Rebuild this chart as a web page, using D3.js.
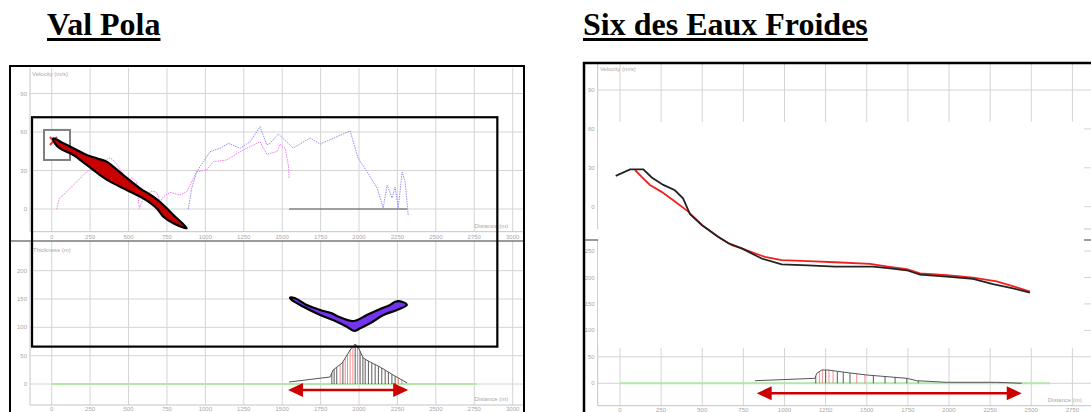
<!DOCTYPE html>
<html>
<head>
<meta charset="utf-8">
<script src="https://cdn.jsdelivr.net/npm/d3@7"></script>
<style>
  body { margin: 0; background: #fff; }
  svg { display: block; }
  .tick-label { font-family: "Liberation Sans", Arial, sans-serif; font-size: 6px; fill: #a8a8a8; }
  .title { font-family: "Liberation Serif", "Times New Roman", serif; font-size: 32px; font-weight: bold; fill: #000; }
</style>
</head>
<body>
<svg id="chart" width="1091" height="412"></svg>
<script>
// ---- data ----
var distTicksLeft = [0, 250, 500, 750, 1000, 1250, 1500, 1750, 2000, 2250, 2500, 2750, 3000];
var distTicksRight = [0, 250, 500, 750, 1000, 1250, 1500, 1750, 2000, 2250, 2500, 2750];
var velTicks = [0, 30, 60, 90];
var thkTicksLeft = [0, 50, 100, 150, 200];
var thkTicksRight = [0, 50, 100, 150, 200, 250];

// Val Pola velocity (distance m, velocity m/s)
var velPink = [[33,0],[49,8.3],[98,13.5],[163,21.3],[228,29.1],[314,35.6],[380,40],[412,36.8],[456,29.1],[484,20],
  [521,24.4],[553,21.3],[570,0.5],[607,10.9],[651,14],[684,13],[705,5.7],[727,9.6],[770,13],[835,10.9],[879,13.5],
  [911,21.3],[944,29.1],[1009,30.4],[1052,36.9],[1139,38.2],[1226,44.7],[1313,49.9],[1356,52.4],[1400,42.6],
  [1465,44.7],[1486,50.4],[1519,47.3],[1540,34.3],[1545,23.9]];
var velBlue = [[889,0],[911,16.1],[944,29.1],[987,36.9],[1031,44.7],[1096,47.3],[1150,51.2],[1226,47.3],[1291,52.4],
  [1356,64.1],[1400,49.9],[1421,51.2],[1475,58.4],[1571,47.5],[1682,55.3],[1747,50.6],[1942,60.8],[1994,39.7],
  [2053,28.8],[2118,16.4],[2157,0.8],[2183,18.7],[2215,8.6],[2235,17.1],[2255,0.8],[2281,28.8],[2300,21],[2320,-4.7]];
var zeroSegLeft = [1545, 2313];

// Val Pola deposit thickness (distance m, thickness m)
var thkLeft = [[1545,3.5],[1812,12.4],[1831,24.7],[1890,37],[1942,60],[1975,70.6],[1994,65.3],[2027,45.9],
  [2072,38.8],[2137,30],[2222,15.9],[2313,1.8]];
var hatchLeftBlack = [1823,1838,1855,1895,1975,2007,2025,2040,2061,2083,2105,2126,2148,2170,2191,2214,2235];
var hatchLeftRed = [1877,1910,1925,1942,1960,1990,2257,2279];
var greenEndLeft = 2767;
var arrowLeft = { from: 1538, to: 2320, at: -10.6 };

// Six des Eaux Froides profiles (distance m, altitude m)
var profBlack = [[-26,1689],[61,1701],[142,1701],[193,1686],[263,1672],[334,1662],[383,1647],[426,1617],[497,1597],
  [596,1575],[657,1563],[740,1553],[861,1534],[983,1523],[1143,1521],[1307,1519],[1538,1519],[1629,1516],
  [1743,1512],[1824,1504],[1986,1500],[2146,1496],[2267,1486],[2389,1478],[2492,1470]];
var profRed = [[91,1700],[132,1687],[182,1672],[253,1659],[334,1641],[415,1622],[497,1597],[596,1575],[679,1559],
  [740,1553],[881,1537],[983,1531],[1145,1529],[1307,1527],[1520,1524],[1629,1519],[1743,1514],[1824,1506],
  [1986,1503],[2146,1498],[2290,1491],[2412,1480],[2492,1472]];
var thkRight = [[821,4.9],[1185,9.4],[1196,18.9],[1226,25.1],[1264,25.1],[1398,19.5],[1500,15.7],[1743,9.4],
  [1804,4.9],[1986,1.9],[2290,1.9],[2442,0]];
var hatchRightBlack = [1190,1250,1321,1357,1398,1540,1611,1672,1743,1813];
var hatchRightRed = [1212,1230,1270,1295,1439,1489];
var greenEndRight = 2614;
var arrowRight = { from: 831, to: 2442, at: -18.9 };

// hand-drawn annotations on the Val Pola chart (distance, velocity / thickness)
var redBlob = [[10,55.1],[76,51.2],[163,46],[228,42.1],[293,39.5],[358,36.9],[401,33],[466,26.5],[575,16.1],
  [661,9.6],[727,3.1],[792,-4.7],[879,-15],[792,-11.1],[727,-6],[684,0.5],[596,8.3],[488,14.8],[380,21.3],
  [314,26.5],[228,34.3],[141,42.1],[54,47.3],[21,51.2]];
var purpleBlob = [[1551,152.3],[1584,151.3],[1660,139.4],[1747,130.6],[1823,124.8],[1866,118.8],[1964,111.2],
  [2051,121.8],[2137,132.4],[2202,139.4],[2235,145.3],[2279,145.3],[2311,139.4],[2246,130.6],[2159,121.8],
  [2072,107.1],[2007,98.3],[1968,93.6],[1921,101.1],[1855,110],[1747,121.8],[1638,136.5],[1562,148.3]];
var markBox = { d0: -50, d1: 119, v0: 61.6, v1: 38.2 };
var markX = { d: 8, v: 53 };
var highlightBox = { d0: -128, d1: 2900, vTop: 71.5, tBottom: 66 };

var svg = d3.select("#chart");
svg.append("rect").attr("width", 1091).attr("height", 412).attr("fill", "#fff");

// ---- panel set-up ----
var left = {
    id: "L",
    frame: { x: 10, y: 66, w: 514 },
    x: d3.scaleLinear().domain([0, 3000]).range([51.7, 512.7]),
    yV: d3.scaleLinear().domain([0, 90]).range([209, 93.5]),
    yT: d3.scaleLinear().domain([0, 200]).range([384, 270.7]),
    distTicks: distTicksLeft, thkTicks: thkTicksLeft,
    plotLeft: 30, plotRight: 524, distLabelAt: 2750,
    velTop: 68, velBottom: 231.7, divider: 241, thkBottom: 405
};
var right = {
    id: "R",
    frame: { x: 584, y: 63, w: 520 },
    x: d3.scaleLinear().domain([0, 2750]).range([620, 1072.4]),
    yV: d3.scaleLinear().domain([0, 90]).range([206.7, 90]),
    yT: d3.scaleLinear().domain([0, 250]).range([383.3, 251]),
    distTicks: distTicksRight, thkTicks: thkTicksRight,
    plotLeft: 597.7, plotRight: 1091, distLabelAt: 2600,
    velTop: 63, velBottom: 229, divider: 240, thkBottom: 405.7
};

function drawGrid(p) {
    svg.append("clipPath").attr("id", "clip" + p.id)
        .append("rect").attr("x", p.frame.x).attr("y", p.frame.y).attr("width", p.frame.w).attr("height", 412);
    var g = svg.append("g").attr("clip-path", "url(#clip" + p.id + ")");

    // vertical grid lines in both sub-charts
    p.distTicks.forEach(function(t) {
        g.append("line").attr("x1", p.x(t)).attr("x2", p.x(t)).attr("y1", p.velTop).attr("y2", p.velBottom)
            .attr("stroke", "#d4d4d4");
        g.append("line").attr("x1", p.x(t)).attr("x2", p.x(t)).attr("y1", p.divider).attr("y2", p.thkBottom)
            .attr("stroke", "#d4d4d4");
    });
    // horizontal grid lines
    velTicks.forEach(function(v) {
        g.append("line").attr("x1", p.plotLeft).attr("x2", p.plotRight).attr("y1", p.yV(v)).attr("y2", p.yV(v))
            .attr("stroke", "#d4d4d4");
        g.append("text").attr("class", "tick-label").attr("x", p.plotLeft - 3).attr("y", p.yV(v))
            .attr("dy", "0.35em").attr("text-anchor", "end").text(v);
    });
    p.thkTicks.forEach(function(t) {
        g.append("line").attr("x1", p.plotLeft).attr("x2", p.plotRight).attr("y1", p.yT(t)).attr("y2", p.yT(t))
            .attr("stroke", "#d4d4d4");
        g.append("text").attr("class", "tick-label").attr("x", p.plotLeft - 3).attr("y", p.yT(t))
            .attr("dy", "0.35em").attr("text-anchor", "end").text(t);
    });
    // axis frame lines
    g.append("line").attr("x1", p.plotLeft).attr("x2", p.plotLeft).attr("y1", p.velTop).attr("y2", p.velBottom)
        .attr("stroke", "#c4c4c4");
    g.append("line").attr("x1", p.plotLeft).attr("x2", p.plotLeft).attr("y1", p.divider).attr("y2", p.thkBottom)
        .attr("stroke", "#c4c4c4");
    g.append("line").attr("x1", p.plotLeft).attr("x2", p.plotRight).attr("y1", p.velBottom).attr("y2", p.velBottom)
        .attr("stroke", "#c4c4c4");
    g.append("line").attr("x1", p.plotLeft).attr("x2", p.plotRight).attr("y1", p.thkBottom).attr("y2", p.thkBottom)
        .attr("stroke", "#c4c4c4");
    g.append("line").attr("x1", p.frame.x).attr("x2", p.plotRight).attr("y1", p.divider).attr("y2", p.divider)
        .attr("stroke", "#7a7a7a").attr("stroke-width", 1.5);

    // distance labels
    p.distTicks.forEach(function(t) {
        g.append("text").attr("class", "tick-label").attr("x", p.x(t)).attr("y", p.velBottom + 5)
            .attr("dy", "0.35em").attr("text-anchor", "middle").text(t);
        g.append("text").attr("class", "tick-label").attr("x", p.x(t)).attr("y", p.thkBottom + 4)
            .attr("dy", "0.35em").attr("text-anchor", "middle").text(t);
    });
    g.append("text").attr("class", "tick-label").attr("x", p.plotLeft + 2).attr("y", p.velTop + 8)
        .text("Velocity (m/s)");
    g.append("text").attr("class", "tick-label").attr("x", p.plotLeft + 3).attr("y", p.divider + 11)
        .text("Thickness (m)");
    g.append("text").attr("class", "tick-label").attr("x", p.x(p.distLabelAt)).attr("y", p.velBottom - 4)
        .text("Distance (m)");
    g.append("text").attr("class", "tick-label").attr("x", p.x(p.distLabelAt)).attr("y", p.thkBottom - 4)
        .text("Distance (m)");
    return g;
}

function drawThickness(g, p, data, black, red, greenEnd, arrow) {
    g.append("line").attr("x1", p.x(0)).attr("x2", p.x(greenEnd)).attr("y1", p.yT(0)).attr("y2", p.yT(0))
        .attr("stroke", "#b5e6aa").attr("stroke-width", 2);
    var prof = d3.scaleLinear().domain(data.map(d => d[0])).range(data.map(d => d[1]));
    g.selectAll(".hb" + p.id).data(black).enter().append("line")
        .attr("x1", d => p.x(d)).attr("x2", d => p.x(d))
        .attr("y1", p.yT(0)).attr("y2", d => p.yT(prof(d)))
        .attr("stroke", "#333").attr("stroke-width", 0.8);
    g.selectAll(".hr" + p.id).data(red).enter().append("line")
        .attr("x1", d => p.x(d)).attr("x2", d => p.x(d))
        .attr("y1", p.yT(0)).attr("y2", d => p.yT(prof(d)))
        .attr("stroke", "#f07070").attr("stroke-width", 0.8);
    g.append("path").datum(data)
        .attr("d", d3.line().x(d => p.x(d[0])).y(d => p.yT(d[1])))
        .attr("fill", "none").attr("stroke", "#555").attr("stroke-width", 1);

    // red double arrow marking the runout
    var y = p.yT(arrow.at), x0 = p.x(arrow.from), x1 = p.x(arrow.to);
    g.append("line").attr("x1", x0 + 12).attr("x2", x1 - 12).attr("y1", y).attr("y2", y)
        .attr("stroke", "#cc0000").attr("stroke-width", 2.5);
    g.append("path").attr("d", "M" + x0 + "," + y + "L" + (x0 + 15) + "," + (y - 7) + "L" + (x0 + 15) + "," + (y + 7) + "Z")
        .attr("fill", "#cc0000");
    g.append("path").attr("d", "M" + x1 + "," + y + "L" + (x1 - 15) + "," + (y - 7) + "L" + (x1 - 15) + "," + (y + 7) + "Z")
        .attr("fill", "#cc0000");
}

// ---- left panel: Val Pola ----
var gL = drawGrid(left);
var velLine = d3.line().x(d => left.x(d[0])).y(d => left.yV(d[1]));
gL.append("line").attr("x1", left.x(zeroSegLeft[0])).attr("x2", left.x(zeroSegLeft[1]))
    .attr("y1", left.yV(0)).attr("y2", left.yV(0)).attr("stroke", "#555").attr("stroke-width", 1);
gL.append("path").datum(velPink).attr("d", velLine).attr("fill", "none")
    .attr("stroke", "#f27af2").attr("stroke-width", 1).attr("stroke-dasharray", "1.5,1");
gL.append("path").datum(velBlue).attr("d", velLine).attr("fill", "none")
    .attr("stroke", "#8f8ff5").attr("stroke-width", 1).attr("stroke-dasharray", "1.5,1");
drawThickness(gL, left, thkLeft, hatchLeftBlack, hatchLeftRed, greenEndLeft, arrowLeft);

// annotations
gL.append("rect")
    .attr("x", left.x(highlightBox.d0)).attr("y", left.yV(highlightBox.vTop))
    .attr("width", left.x(highlightBox.d1) - left.x(highlightBox.d0))
    .attr("height", left.yT(highlightBox.tBottom) - left.yV(highlightBox.vTop))
    .attr("fill", "none").attr("stroke", "#000").attr("stroke-width", 2.2);
gL.append("rect")
    .attr("x", left.x(markBox.d0)).attr("y", left.yV(markBox.v0))
    .attr("width", left.x(markBox.d1) - left.x(markBox.d0))
    .attr("height", left.yV(markBox.v1) - left.yV(markBox.v0))
    .attr("fill", "#fff").attr("stroke", "#808080").attr("stroke-width", 2);
var mx = left.x(markX.d), my = left.yV(markX.v);
gL.append("path").attr("d", "M" + (mx - 3) + "," + (my - 4) + "L" + (mx + 4) + "," + (my + 4) +
        "M" + (mx + 4) + "," + (my - 4) + "L" + (mx - 3) + "," + (my + 4))
    .attr("stroke", "#ff3030").attr("stroke-width", 2);
gL.append("path").datum(redBlob)
    .attr("d", d3.line().x(d => left.x(d[0])).y(d => left.yV(d[1])).curve(d3.curveCatmullRomClosed))
    .attr("fill", "#c80000").attr("stroke", "#000").attr("stroke-width", 2.2).attr("stroke-linejoin", "round");
gL.append("path").datum(purpleBlob)
    .attr("d", d3.line().x(d => left.x(d[0])).y(d => left.yT(d[1])).curve(d3.curveCatmullRomClosed))
    .attr("fill", "#7433ee").attr("stroke", "#000").attr("stroke-width", 2.2).attr("stroke-linejoin", "round");

// ---- right panel: Six des Eaux Froides ----
var gR = drawGrid(right);
// pasted profile image covers the middle of the chart
gR.append("rect").attr("x", right.plotLeft + 0.5).attr("y", 122)
    .attr("width", 1084 - right.plotLeft - 0.5).attr("height", 348 - 122).attr("fill", "#fff");
var altY = d3.scaleLinear().domain([1400, 1700]).range([330, 170]);
var profLine = d3.line().x(d => right.x(d[0])).y(d => altY(d[1]));
gR.append("path").datum(profRed).attr("d", profLine).attr("fill", "none")
    .attr("stroke", "#f02020").attr("stroke-width", 1.8);
gR.append("path").datum(profBlack).attr("d", profLine).attr("fill", "none")
    .attr("stroke", "#222").attr("stroke-width", 1.8);
drawThickness(gR, right, thkRight, hatchRightBlack, hatchRightRed, greenEndRight, arrowRight);

// panel frames
svg.append("rect").attr("x", left.frame.x).attr("y", left.frame.y).attr("width", left.frame.w).attr("height", 400)
    .attr("fill", "none").attr("stroke", "#000").attr("stroke-width", 2);
svg.append("rect").attr("x", right.frame.x).attr("y", right.frame.y).attr("width", right.frame.w).attr("height", 400)
    .attr("fill", "none").attr("stroke", "#000").attr("stroke-width", 2.5);

// titles with underline
[["Val Pola", 47], ["Six des Eaux Froides", 583]].forEach(function(t) {
    var txt = svg.append("text").attr("class", "title").attr("x", t[1]).attr("y", 35).text(t[0]);
    var w = txt.node().getComputedTextLength();
    svg.append("rect").attr("x", t[1]).attr("y", 38).attr("width", w).attr("height", 3).attr("fill", "#000");
});
</script>
</body>
</html>
